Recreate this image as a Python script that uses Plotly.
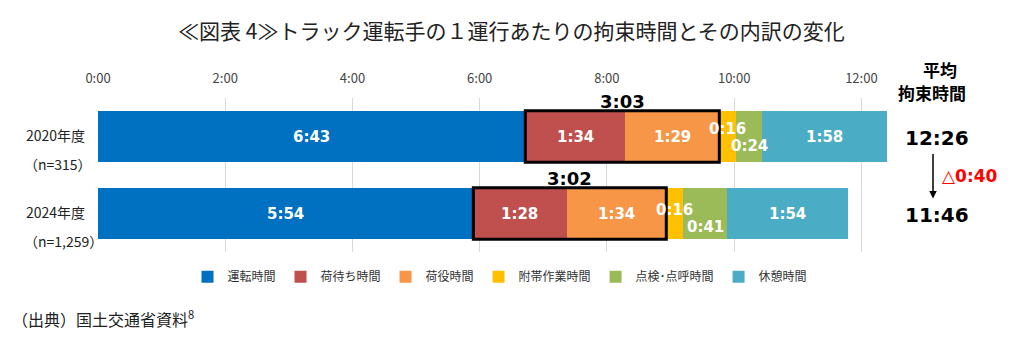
import plotly.graph_objects as go

years = ["2020年度", "2024年度"]
samples = ["（n=315）", "（n=1,259）"]
series_names = ["運転時間", "荷待ち時間", "荷役時間", "附帯作業時間", "点検･点呼時間", "休憩時間"]
colors = ["#0070C0", "#C0504D", "#F79646", "#FFC000", "#9BBB59", "#4BACC6"]
# minutes per segment, per year
drive = [403, 354]
wait = [94, 88]
handling = [89, 94]
incidental = [16, 16]
inspection = [24, 41]
rest = [118, 114]
series = [drive, wait, handling, incidental, inspection, rest]
avg_total = ["12:26", "11:46"]
box_total = ["3:03", "3:02"]
diff_label = "△0:40"
tick_hours = [0, 2, 4, 6, 8, 10, 12]

def fmt(m):
    return f"{m // 60}:{m % 60:02d}"

FONT = "Noto Sans CJK JP"
NUM = "DejaVu Sans"
L, R = 98, 93
W = 1018 - L - R

def px(xp):
    return (xp - L) / W

yv = [0, 1]
fig = go.Figure()
for name, col, vals in zip(series_names, colors, series):
    fig.add_trace(go.Bar(
        y=yv, x=[v / 60 for v in vals], orientation="h", name=name,
        marker=dict(color=col, line=dict(width=0)),
        hoverinfo="skip",
    ))

annotations = []
shapes = []
shifts = {3: [8, 4], 4: [-9, -13]}
for i in range(2):
    cum = 0
    for s, vals in enumerate(series):
        v = vals[i]
        center = (cum + v / 2) / 60
        ysh = shifts.get(s, [0, 0])[i]
        annotations.append(dict(
            x=center, y=yv[i], xref="x", yref="y", text=fmt(v), showarrow=False,
            xanchor="center", yshift=ysh,
            font=dict(family=NUM, size=15, color="white", weight="bold"),
        ))
        cum += v
    x0 = drive[i] / 60
    x1 = (drive[i] + wait[i] + handling[i]) / 60
    shapes.append(dict(type="rect", xref="x", yref="y", x0=x0, x1=x1,
                       y0=yv[i] - 0.335, y1=yv[i] + 0.335,
                       line=dict(color="black", width=3), fillcolor="rgba(0,0,0,0)"))
    annotations.append(dict(x=(x0 + x1) / 2, y=yv[i] - 0.335, xref="x", yref="y",
                            text=box_total[i], showarrow=False, xanchor="center",
                            yanchor="bottom", yshift=-3,
                            font=dict(family=NUM, size=18, color="black", weight="bold")))
    annotations.append(dict(x=px(24), y=yv[i], xref="paper", yref="y", text=years[i],
                            showarrow=False, xanchor="left", yshift=2,
                            font=dict(family=FONT, size=14, color="#222")))
    annotations.append(dict(x=px(22), y=yv[i], xref="paper", yref="y", text=samples[i],
                            showarrow=False, xanchor="left", yshift=-27,
                            font=dict(family=FONT, size=14, color="#222")))
    annotations.append(dict(x=px(937), y=yv[i], xref="paper", yref="y", text=avg_total[i],
                            showarrow=False, xanchor="center", yshift=-1,
                            font=dict(family=NUM, size=20, color="black", weight="bold")))

annotations += [
    dict(x=px(940), y=1, xref="paper", yref="paper", text="平均", showarrow=False,
         xanchor="center", yanchor="bottom", yshift=14,
         font=dict(family=FONT, size=17, color="black", weight="bold")),
    dict(x=px(932), y=1, xref="paper", yref="paper", text="拘束時間", showarrow=False,
         xanchor="center", yanchor="bottom", yshift=-9,
         font=dict(family=FONT, size=17, color="black", weight="bold")),
    dict(x=px(970), y=0.5, xref="paper", yref="paper", text=diff_label, showarrow=False,
         xanchor="center", yshift=-1,
         font=dict(family=NUM, size=17, color="#FF0000", weight="bold")),
    dict(x=px(933), y=yv[1], xref="paper", yref="y", ax=0, ay=-61,
         axref="pixel", ayref="pixel", showarrow=True, arrowhead=2, arrowsize=1, arrowwidth=1.5,
         arrowcolor="black", standoff=15, text=""),
    dict(x=px(10), y=-(322 + 11 - 252) / 154, xref="paper", yref="paper",
         xanchor="left", yanchor="bottom",
         text="（出典）国土交通省資料<sup>8</sup>", showarrow=False,
         font=dict(family=FONT, size=16, color="#222")),
]

fig.update_layout(
    width=1018, height=351,
    margin=dict(l=L, r=R, t=98, b=99),
    barmode="stack", bargap=0.34,
    plot_bgcolor="white", paper_bgcolor="white",
    title=dict(text="≪図表 4≫トラック運転手の１運行あたりの拘束時間とその内訳の変化",
               x=0.5, xref="paper", xanchor="center", y=0.91, yanchor="middle",
               font=dict(family=FONT, size=21, color="#222")),
    xaxis=dict(range=[0, 13], side="top", tickvals=tick_hours,
               ticktext=[f"{h}:00" for h in tick_hours], showgrid=True,
               gridcolor="#D9D9D9", gridwidth=1, zeroline=False, showline=False,
               ticks="", ticklabelstandoff=11,
               tickfont=dict(family=FONT, size=13, color="#444")),
    yaxis=dict(range=[1.5, -0.5], showticklabels=False, showgrid=False,
               zeroline=False, showline=False, ticks=""),
    legend=dict(orientation="h", x=px(500), xanchor="center", y=-0.16,
                yanchor="middle", font=dict(family=FONT, size=12, color="#333"),
                itemwidth=30, traceorder="normal", itemclick=False),
    annotations=annotations, shapes=shapes, showlegend=True,
)
fig.write_html("out.html")
